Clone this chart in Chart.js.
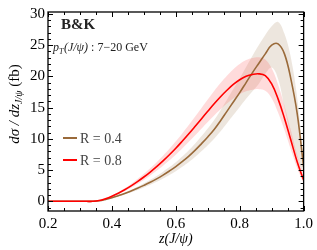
<!DOCTYPE html>
<html lang="en">
  <head>
    <meta charset="UTF-8" />
    <title>B&amp;K z(J/psi)</title>
    <style>
      body {
        margin: 0;
        padding: 0;
        background: #fff;
      }
      .chart {
        width: 317px;
        height: 250px;
      }
    </style>
  </head>
  <body>
    <div class="chart">
      <canvas id="myChart"></canvas>
    </div>
    <script src="https://cdn.jsdelivr.net/npm/chart.js"></script>
    <script>
      // values
      const zValues = [
        0.2, 0.22, 0.24, 0.26, 0.28, 0.3, 0.32, 0.34, 0.36, 0.38, 0.4, 0.42, 0.44, 0.46,
        0.48, 0.5, 0.52, 0.54, 0.56, 0.58, 0.6, 0.62, 0.64, 0.66, 0.68, 0.7, 0.72, 0.74,
        0.76, 0.78, 0.8, 0.82, 0.84, 0.86, 0.88, 0.9, 0.92, 0.94, 0.96, 0.98, 1.0,
      ];
      const r04 = [
        0, 0, 0, 0, 0, 0, 0, 0,
        0.08, 0.3, 0.58, 0.9, 1.25, 1.65, 2.08, 2.55, 3.05, 3.6,
        4.2, 4.85, 5.55, 6.35, 7.2, 8.15, 9.2, 10.3, 11.5, 12.9,
        14.4, 15.9, 17.4, 19.0, 20.6, 22.1, 23.6, 25.0, 25.2, 23.6,
        19.6, 14.0, 5.5,
      ];
      const r04High = [
        0, 0, 0, 0, 0, 0, 0, 0,
        0.09, 0.34, 0.66, 1.02, 1.41, 1.86, 2.35, 2.88, 3.45, 4.07,
        4.75, 5.48, 6.27, 7.18, 8.14, 9.21, 10.4, 11.64, 13.0, 14.58,
        16.27, 17.97, 19.7, 21.5, 23.3, 25.0, 26.6, 28.0, 28.7, 26.8,
        23.0, 16.5, 6.5,
      ];
      const r04Low = [
        0, 0, 0, 0, 0, 0, 0, 0,
        0.07, 0.26, 0.5, 0.78, 1.09, 1.44, 1.81, 2.22, 2.65, 3.13,
        3.65, 4.22, 4.83, 5.52, 6.26, 7.09, 8.0, 8.96, 10.0, 11.2,
        12.5, 13.8, 15.1, 16.4, 17.6, 18.8, 20.4, 21.4, 19.6, 15.0,
        10.5, 7.0, 4.2,
      ];
      const r08 = [
        0, 0, 0, 0, 0, 0, 0, 0,
        0.12, 0.42, 0.82, 1.3, 1.85, 2.47, 3.15, 3.89, 4.69, 5.55,
        6.47, 7.45, 8.49, 9.61, 10.77, 11.97, 13.19, 14.41, 15.61, 16.74,
        17.77, 18.7, 19.45, 20.0, 20.3, 20.4, 20.1, 18.8, 16.4, 13.3,
        9.8, 6.3, 3.4,
      ];
      const r08High = [
        0, 0, 0, 0, 0, 0, 0, 0,
        0.14, 0.48, 0.93, 1.47, 2.09, 2.79, 3.56, 4.4, 5.3, 6.27,
        7.31, 8.42, 9.6, 10.86, 12.17, 13.53, 14.9, 16.28, 17.64, 18.92,
        20.08, 21.13, 21.98, 22.6, 22.94, 23.05, 22.7, 21.3, 18.7, 15.3,
        11.4, 7.4, 4.0,
      ];
      const r08Low = [
        0, 0, 0, 0, 0, 0, 0, 0,
        0.1, 0.37, 0.72, 1.14, 1.63, 2.17, 2.77, 3.42, 4.13, 4.88,
        5.69, 6.56, 7.47, 8.46, 9.48, 10.53, 11.61, 12.68, 13.74, 14.73,
        15.64, 16.46, 17.12, 17.6, 17.86, 17.95, 17.7, 16.5, 14.2, 11.4,
        8.3, 5.3, 2.9,
      ];
      const seriesLabels = ['R = 0.4', 'R = 0.8'];
      const xTickValues = [0.2, 0.4, 0.6, 0.8, 1.0];
      const yTickValues = [0, 5, 10, 15, 20, 25, 30];

      const brown = '#9a6a3a';
      const red = '#ff0000';
      const serif = '"Liberation Serif", "DejaVu Serif", serif';

      function points(values) {
        return zValues.map((z, i) => ({ x: z, y: values[i] }));
      }

      // frame, inward ticks and the text pieces
      const decorations = {
        id: 'decorations',
        afterDraw(chart) {
          const ctx = chart.ctx;
          const area = chart.chartArea;
          const xs = chart.scales.x;
          const ys = chart.scales.y;
          ctx.save();
          ctx.strokeStyle = '#000';
          ctx.lineWidth = 1;

          // x ticks every 0.05, major every 0.2
          for (let k = 0; k <= 16; k++) {
            const v = 0.2 + k * 0.05;
            const px = Math.round(xs.getPixelForValue(v)) + 0.5;
            const len = k % 4 === 0 ? 5 : 3;
            ctx.beginPath();
            ctx.moveTo(px, area.bottom);
            ctx.lineTo(px, area.bottom - len);
            ctx.moveTo(px, area.top);
            ctx.lineTo(px, area.top + len);
            ctx.stroke();
          }
          // y ticks every 1, major every 5
          for (let v = -1; v <= 30; v++) {
            const py = Math.round(ys.getPixelForValue(v)) + 0.5;
            const len = v % 5 === 0 ? 5 : 3;
            ctx.beginPath();
            ctx.moveTo(area.left, py);
            ctx.lineTo(area.left + len, py);
            ctx.moveTo(area.right, py);
            ctx.lineTo(area.right - len, py);
            ctx.stroke();
          }
          ctx.lineWidth = 1.3;
          ctx.strokeRect(area.left, area.top, area.right - area.left, area.bottom - area.top);

          // labels inside the plot
          ctx.fillStyle = '#222';
          ctx.textBaseline = 'alphabetic';
          ctx.font = 'bold 15px ' + serif;
          ctx.fillText('B&K', 61, 29);

          let x = 53;
          const y = 51;
          ctx.font = 'italic 12px ' + serif;
          ctx.fillText('p', x, y);
          x += ctx.measureText('p').width;
          ctx.font = 'italic 8px ' + serif;
          ctx.fillText('T', x, y + 3);
          x += ctx.measureText('T').width + 0.5;
          ctx.font = 'italic 12px ' + serif;
          ctx.fillText('(J/ψ)', x, y);
          x += ctx.measureText('(J/ψ)').width;
          ctx.font = '12px ' + serif;
          ctx.fillText(' : 7\u221220 GeV', x, y);

          // legend
          const legendY = [138, 160];
          const colors = [brown, red];
          ctx.font = '14px ' + serif;
          ctx.fillStyle = '#444';
          for (let i = 0; i < 2; i++) {
            ctx.strokeStyle = colors[i];
            ctx.lineWidth = 2;
            ctx.beginPath();
            ctx.moveTo(63, legendY[i]);
            ctx.lineTo(77, legendY[i]);
            ctx.stroke();
            ctx.fillText(seriesLabels[i], 80, legendY[i] + 4.5);
          }

          // x axis title
          ctx.fillStyle = '#000';
          ctx.font = 'italic 14px ' + serif;
          ctx.textAlign = 'center';
          ctx.fillText('z(J/ψ)', (area.left + area.right) / 2, 243);

          // y axis title, rotated
          ctx.translate(19, 104);
          ctx.rotate(-Math.PI / 2);
          ctx.textAlign = 'left';
          const parts = [
            ['italic 15px ', 'dσ / dz', 0],
            ['italic 10px ', 'J/ψ', 3],
            ['15px ', ' (fb)', 0],
          ];
          let total = 0;
          parts.forEach((p) => {
            ctx.font = p[0] + serif;
            total += ctx.measureText(p[1]).width;
          });
          let tx = -total / 2;
          parts.forEach((p) => {
            ctx.font = p[0] + serif;
            ctx.fillText(p[1], tx, p[2]);
            tx += ctx.measureText(p[1]).width;
          });
          ctx.restore();
        },
      };

      const ctx = document.getElementById('myChart');

      new Chart(ctx, {
        type: 'line',
        data: {
          datasets: [
            {
              label: 'R = 0.4 high',
              data: points(r04High),
              borderWidth: 0,
              pointRadius: 0,
              backgroundColor: 'rgba(175, 140, 105, 0.22)',
              fill: '+1',
              order: 4,
            },
            {
              label: 'R = 0.4 low',
              data: points(r04Low),
              borderWidth: 0,
              pointRadius: 0,
              fill: false,
              order: 4,
            },
            {
              label: 'R = 0.8 high',
              data: points(r08High),
              borderWidth: 0,
              pointRadius: 0,
              backgroundColor: 'rgba(255, 90, 90, 0.22)',
              fill: '+1',
              order: 3,
            },
            {
              label: 'R = 0.8 low',
              data: points(r08Low),
              borderWidth: 0,
              pointRadius: 0,
              fill: false,
              order: 3,
            },
            {
              label: seriesLabels[0],
              data: points(r04),
              borderColor: brown,
              borderWidth: 1.6,
              pointRadius: 0,
              fill: false,
              order: 2,
            },
            {
              label: seriesLabels[1],
              data: points(r08),
              borderColor: red,
              borderWidth: 1.6,
              pointRadius: 0,
              fill: false,
              order: 1,
            },
          ],
        },
        options: {
          responsive: true,
          maintainAspectRatio: false,
          animation: false,
          events: [],
          layout: { padding: { top: 5, right: 11, left: 0, bottom: 0 } },
          elements: { line: { tension: 0.4 } },
          plugins: {
            legend: { display: false },
            tooltip: { enabled: false },
            filler: { propagate: false },
          },
          scales: {
            x: {
              type: 'linear',
              min: 0.2,
              max: 1.0,
              afterFit: (scale) => {
                scale.height = 39;
              },
              afterBuildTicks: (scale) => {
                scale.ticks = xTickValues.map((v) => ({ value: v }));
              },
              grid: { display: false, drawTicks: false },
              border: { display: false },
              ticks: {
                padding: 4,
                color: '#000',
                font: { family: serif, size: 15 },
                maxRotation: 0,
                callback: (v) => v.toFixed(1),
              },
            },
            y: {
              min: -1.55,
              max: 30.3,
              afterFit: (scale) => {
                scale.width = 48;
              },
              afterBuildTicks: (scale) => {
                scale.ticks = yTickValues.map((v) => ({ value: v }));
              },
              grid: { display: false, drawTicks: false },
              border: { display: false },
              ticks: {
                padding: 3,
                color: '#000',
                font: { family: serif, size: 15 },
              },
            },
          },
        },
        plugins: [decorations],
      });
    </script>
  </body>
</html>
